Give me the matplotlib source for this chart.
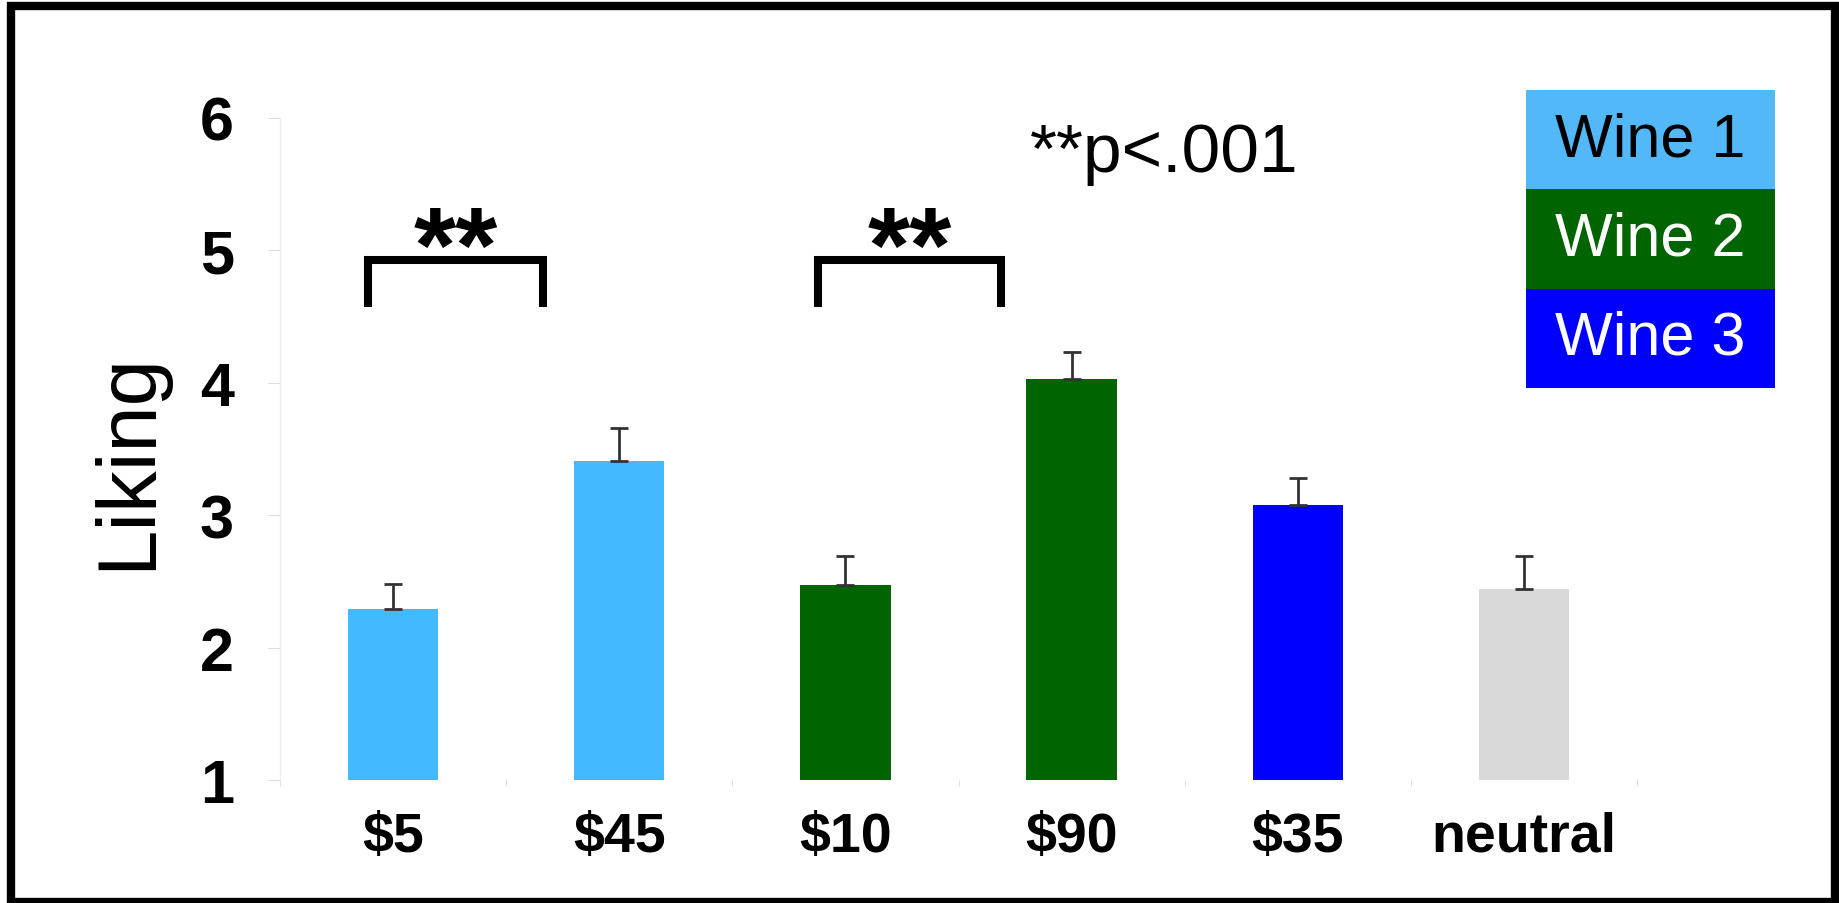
import matplotlib
matplotlib.use("Agg")
import matplotlib.pyplot as plt
from matplotlib import font_manager
from matplotlib.patches import Rectangle
import numpy as np

plt.rcParams['font.family'] = ['Liberation Sans', 'DejaVu Sans']

# data
labels = ['$5', '$45', '$10', '$90', '$35', 'neutral']
liking = [2.29, 3.41, 2.47, 4.03, 3.08, 2.44]
errors = [0.19, 0.25, 0.22, 0.20, 0.20, 0.25]
bar_colors = ['#45b9ff', '#45b9ff', '#006400', '#006400', '#0000ff', '#d9d9d9']

legend_names = ['Wine 1', 'Wine 2', 'Wine 3']
legend_colors = ['#52b8f7', '#006400', '#0000ff']
legend_text_colors = ['black', 'white', 'white']

# significance brackets: (left, right) in bar units
brackets = [(-0.11, 0.665), (1.88, 2.69)]
bracket_low, bracket_high = 4.57, 4.93

# x labels in the reference are condensed; use the narrow face if it is there
try:
    font_manager.findfont('Liberation Sans Narrow', fallback_to_default=False)
    xlab_font, xlab_size = 'Liberation Sans Narrow', 46
except ValueError:
    xlab_font, xlab_size = 'Liberation Sans', 40

fig = plt.figure(figsize=(18.39, 9.04), dpi=100)
ax = fig.add_axes([280/1839, 1 - 781/904, (1637 - 280)/1839, (781 - 119)/904])

x = np.arange(len(labels))
ax.bar(x, liking, width=0.4, color=bar_colors, zorder=2)
ax.errorbar(x, liking, yerr=[np.zeros(len(errors)), errors], fmt='none',
            ecolor='#333333', elinewidth=2, capsize=6.5, capthick=2, zorder=3)

ax.set_xlim(-0.5, 5.5)
ax.set_ylim(1, 6)
ax.set_yticks([1, 2, 3, 4, 5, 6])
ax.set_yticklabels(['1', '2', '3', '4', '5', '6'], fontsize=44, fontweight='bold')
ax.set_xticks(x)
ax.set_xticklabels(labels, fontsize=xlab_size, fontweight='bold', family=xlab_font)
ax.set_xticks(np.arange(-0.5, 6.0, 1.0), minor=True)
ax.tick_params(axis='x', which='major', length=0, pad=22)
ax.tick_params(axis='x', which='minor', length=4, color='#dddddd')
ax.tick_params(axis='y', length=9, color='#dddddd', pad=24)

for side in ['top', 'right', 'bottom']:
    ax.spines[side].set_visible(False)
ax.spines['left'].set_color('#eeeeee')
ax.spines['left'].set_linewidth(1)

for (l, r) in brackets:
    ax.plot([l, l, r, r], [bracket_low, bracket_high, bracket_high, bracket_low],
            color='black', lw=5.8, solid_joinstyle='miter', solid_capstyle='butt',
            clip_on=False, zorder=4)
    ax.text((l + r) / 2, 4.77, '**', fontsize=78, fontweight='bold',
            ha='center', va='baseline', clip_on=False)

ax.text(3.41, 5.60, '**p<.001', fontsize=50, ha='center', va='baseline')

fig.text(128/1839, 1 - 461/904, 'Liking', rotation=90, fontsize=60,
         ha='center', va='center')

# legend blocks
box_left, box_right = 1526, 1775
box_top, box_h = 91, 99.3
for i, (name, c, tc) in enumerate(zip(legend_names, legend_colors, legend_text_colors)):
    top = box_top + i * box_h
    fig.add_artist(Rectangle((box_left/1839, 1 - (top + box_h)/904),
                             (box_right - box_left)/1839, box_h/904,
                             transform=fig.transFigure, color=c, lw=0))
    fig.text((box_left + box_right) / 2 / 1839, 1 - (top + box_h / 2)/904, name,
             fontsize=44, color=tc, ha='center', va='center')

# outer frame
fig.add_artist(Rectangle((10.5/1839, 1 - 903/904), (1835 - 10.5)/1839, (903 - 6.5)/904,
                         transform=fig.transFigure, fill=False, lw=6, edgecolor='black'))

fig.savefig('out.png', dpi=100)
